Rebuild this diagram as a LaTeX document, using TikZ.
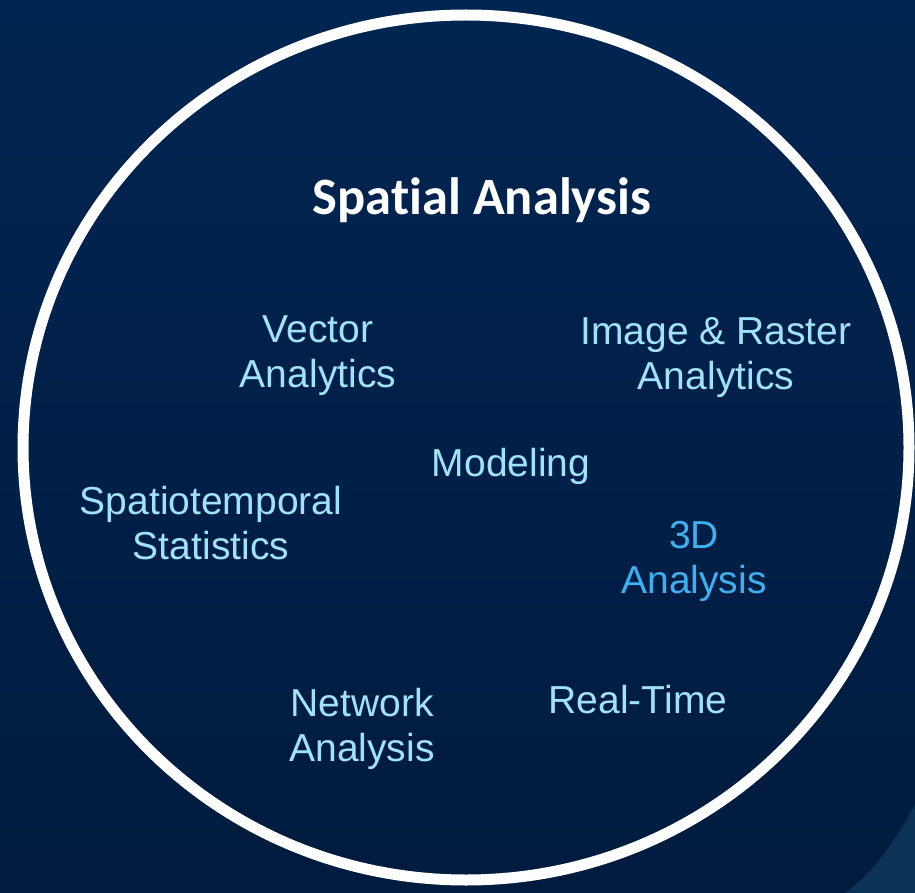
\documentclass[tikz,border=0pt]{standalone}
\usepackage{fontspec}
\setmainfont{Liberation Sans}
\newfontfamily\titlefont[Ligatures={NoCommon}]{Carlito}
\definecolor{bgtop}{RGB}{1,37,82}
\definecolor{bgbot}{RGB}{0,27,62}
\definecolor{labelcyan}{RGB}{162,226,248}
\definecolor{labelblue}{RGB}{62,176,240}
\definecolor{glare}{RGB}{18,60,95}

\begin{document}
\begin{tikzpicture}[x=1pt,y=-1pt,
  topic/.style={text=labelcyan, align=center, font=\fontsize{39}{45}\selectfont, inner sep=0pt},
  topicblue/.style={topic, text=labelblue},
  heading/.style={text=white, font=\titlefont\bfseries\fontsize{52.5}{60}\selectfont, inner sep=0pt}]
\useasboundingbox (0,0) rectangle (915,893);
\shade[top color=bgtop, bottom color=bgbot] (0,0) rectangle (915,893);
\fill[glare, opacity=.7] (915,805) .. controls (890,850) and (870,875) .. (845,893) -- (915,893) -- cycle;
\draw[white, line width=11pt] (466,447.5) ellipse [x radius=443, y radius=432.5];

\node[heading] (title) at (482,200) {Spatial Analysis};
\node[topic] (vector) at (318,356) {Vector\\Analytics};
\node[topic] (raster) at (716,358) {Image \& Raster\\Analytics};
\node[topic] (modeling) at (511,466) {Modeling};
\node[topic] (spatio) at (211,523) {Spatiotemporal\\Statistics};
\node[topicblue] (threed) at (694,561) {3D\\Analysis};
\node[topic] (network) at (362,729) {Network\\Analysis};
\node[topic] (realtime) at (638,700) {Real-Time};

\end{tikzpicture}
\end{document}
